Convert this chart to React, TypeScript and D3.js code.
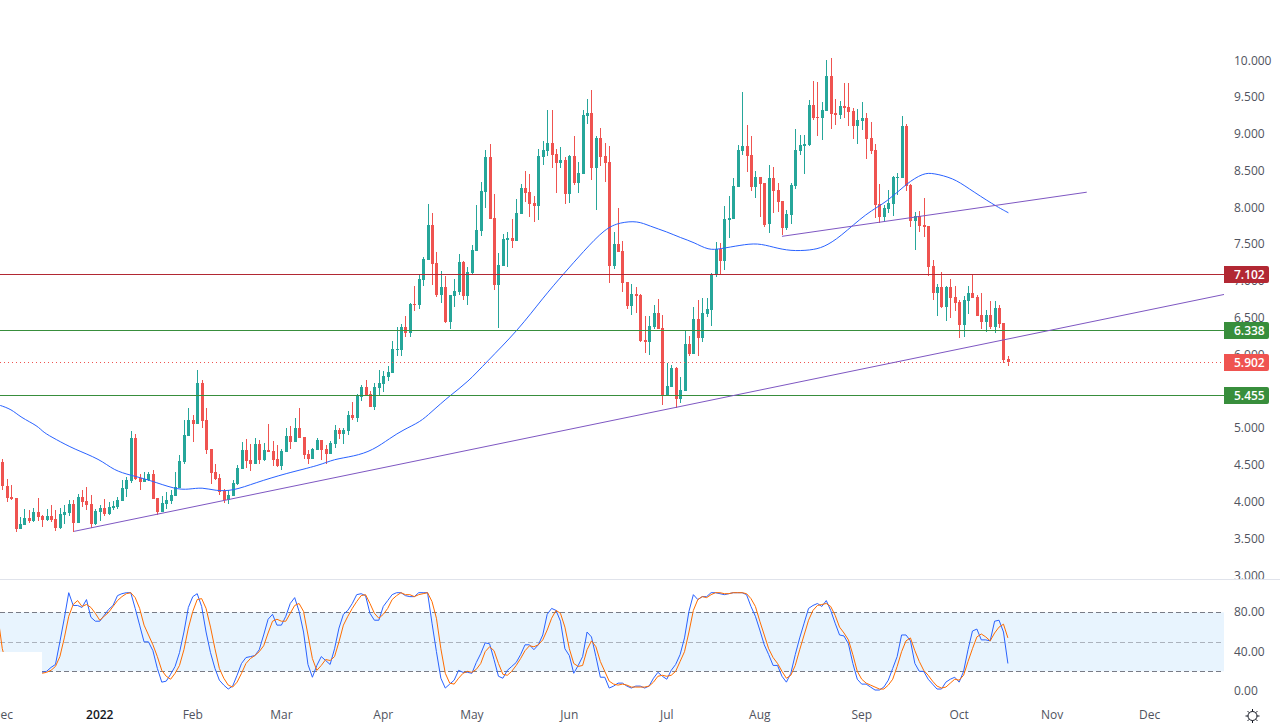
import { useEffect, useRef } from 'react';
import * as d3 from 'd3';

const W = 1280, H = 728;
const AXIS_X = 1224;
const GREEN = '#26a69a', RED = '#ef5350';

// daily candles, one per bar, left to right
const opens = [
  4.54,4.22,4.07,4.05,3.63,3.69,3.78,3.74,3.86,3.81,
  3.75,3.81,3.77,3.65,3.82,3.85,3.97,3.71,4.07,4.01,
  3.97,3.70,3.86,3.92,3.84,3.92,3.93,4.01,4.18,4.29,
  4.87,4.33,4.27,4.30,4.38,4.05,3.86,3.97,4.01,4.08,
  4.19,4.54,4.90,5.11,5.06,5.62,5.11,4.72,4.41,4.33,
  4.15,4.03,4.08,4.24,4.45,4.71,4.57,4.52,4.79,4.57,
  4.71,4.69,4.58,4.49,4.68,4.90,4.81,5.00,4.88,4.65,
  4.58,4.71,4.84,4.72,4.65,4.79,4.98,4.92,4.96,5.18,
  5.14,5.43,5.56,5.47,5.29,5.55,5.60,5.70,5.75,6.07,
  6.07,6.38,6.30,6.69,6.68,7.02,7.29,7.76,7.25,6.81,
  6.92,6.45,6.80,6.85,7.26,6.80,7.11,7.41,7.68,8.21,
  8.69,7.86,6.95,7.21,7.56,7.59,7.55,7.91,8.27,8.21,
  8.06,8.02,8.69,8.77,8.88,8.73,8.61,8.65,8.19,8.70,
  8.34,8.46,9.25,9.29,8.54,8.95,8.70,8.62,7.21,7.50,
  7.41,6.99,6.66,6.83,6.81,6.20,6.17,6.38,6.57,6.36,
  5.44,5.56,5.82,5.40,5.51,6.15,6.01,6.49,6.23,6.55,
  6.61,7.08,7.44,7.27,7.83,7.85,8.28,8.77,8.84,8.72,
  8.28,8.42,8.33,7.78,8.40,8.24,8.09,7.72,7.90,8.29,
  8.77,8.84,8.85,9.40,9.23,9.22,9.31,9.79,9.29,9.26,
  9.38,9.37,9.31,9.11,9.18,9.22,8.95,8.78,8.05,7.87,
  7.98,8.05,8.40,8.40,9.11,8.31,7.82,7.89,7.76,7.75,
  7.21,6.84,6.92,6.65,6.92,6.79,6.72,6.40,6.73,6.84,
  6.79,6.54,6.45,6.54,6.38,6.64,6.43,5.94,
];
const closes = [
  4.21,4.05,4.04,3.63,3.70,3.78,3.74,3.86,3.79,3.75,
  3.81,3.75,3.65,3.84,3.86,3.97,3.71,4.07,4.00,3.96,
  3.70,3.88,3.92,3.84,3.93,3.94,4.03,4.19,4.30,4.87,
  4.31,4.27,4.31,4.38,4.04,3.86,3.98,4.03,4.09,4.20,
  4.56,4.91,5.11,5.06,5.62,5.10,4.71,4.39,4.31,4.14,
  4.03,4.09,4.26,4.46,4.71,4.56,4.52,4.79,4.57,4.71,
  4.68,4.57,4.49,4.69,4.90,4.81,5.00,4.87,4.64,4.58,
  4.72,4.84,4.71,4.65,4.80,4.98,4.92,4.98,5.18,5.14,
  5.45,5.56,5.45,5.29,5.56,5.62,5.71,5.77,6.08,6.08,
  6.38,6.30,6.69,6.67,7.03,7.30,7.76,7.23,6.81,6.92,
  6.45,6.81,6.87,7.26,6.80,7.13,7.42,7.70,8.23,8.69,
  7.85,6.95,7.22,7.57,7.59,7.55,7.93,8.27,8.20,8.05,
  8.02,8.70,8.78,8.88,8.72,8.61,8.65,8.19,8.70,8.34,
  8.47,9.26,9.29,8.54,8.95,8.69,8.61,7.21,7.50,7.40,
  6.98,6.66,6.83,6.80,6.19,6.17,6.39,6.57,6.35,5.45,
  5.57,5.82,5.40,5.52,6.15,6.01,6.49,6.23,6.57,6.62,
  7.10,7.44,7.27,7.85,7.86,8.29,8.78,8.84,8.70,8.28,
  8.42,8.32,7.76,8.40,8.23,8.08,7.72,7.91,8.31,8.78,
  8.85,8.87,9.40,9.22,9.22,9.33,9.79,9.27,9.26,9.38,
  9.35,9.30,9.11,9.19,9.22,8.93,8.77,8.04,7.87,8.00,
  8.06,8.42,8.42,9.11,8.29,7.82,7.89,7.75,7.74,7.19,
  6.84,6.92,6.65,6.92,6.77,6.70,6.40,6.74,6.84,6.77,
  6.53,6.45,6.54,6.38,6.64,6.42,5.93,5.90,
];
const highs = [
  4.59,4.31,4.23,4.05,3.79,3.91,3.89,3.92,4.05,3.82,
  3.90,3.96,3.89,3.92,3.96,4.03,4.03,4.11,4.16,4.20,
  4.09,3.90,3.96,4.04,4.00,4.01,4.07,4.30,4.34,4.96,
  4.92,4.38,4.41,4.41,4.43,4.05,4.08,4.14,4.16,4.41,
  4.64,5.11,5.28,5.18,5.79,5.66,5.28,4.72,4.52,4.38,
  4.18,4.16,4.30,4.50,4.81,4.86,4.79,4.87,4.84,4.80,
  5.06,4.83,4.77,4.72,5.00,5.03,5.14,5.28,4.88,4.71,
  4.73,4.87,4.84,4.77,4.83,5.05,5.01,5.01,5.24,5.36,
  5.47,5.59,5.66,5.51,5.62,5.80,5.78,5.85,6.19,6.38,
  6.42,6.53,6.70,6.93,7.08,7.33,8.05,7.93,7.40,7.14,
  7.07,6.81,7.03,7.37,7.27,7.20,7.49,8.03,8.35,8.78,
  8.87,8.19,7.38,7.64,7.67,7.85,8.12,8.32,8.50,8.46,
  8.16,8.80,8.91,9.33,9.33,8.80,8.82,8.69,8.72,8.97,
  8.62,9.33,9.48,9.60,8.97,9.08,8.88,8.84,7.67,7.99,
  7.55,6.99,6.96,6.92,6.83,6.53,6.53,6.68,6.76,6.54,
  5.89,5.86,5.83,5.70,6.34,6.25,6.65,6.74,6.77,6.77,
  7.11,7.53,7.52,8.02,8.16,8.40,8.85,9.57,9.12,8.97,
  8.50,8.42,8.33,8.58,8.55,8.33,8.09,7.97,8.33,9.07,
  8.99,8.99,9.46,9.72,9.71,9.44,10.01,10.03,9.48,9.45,
  9.69,9.69,9.35,9.34,9.44,9.29,9.16,8.87,8.32,8.04,
  8.24,8.43,8.47,9.25,9.14,8.32,7.94,7.95,8.13,7.75,
  7.29,6.96,7.13,6.94,7.03,6.94,6.74,6.80,6.94,7.10,
  6.81,6.84,6.61,6.73,6.73,6.68,6.43,5.98,
];
const lows = [
  4.16,4.00,4.03,3.59,3.63,3.69,3.71,3.73,3.74,3.66,
  3.74,3.73,3.61,3.63,3.70,3.81,3.59,3.71,3.93,3.89,
  3.65,3.69,3.74,3.81,3.82,3.89,3.90,4.01,4.07,4.26,
  4.30,4.16,4.27,4.29,4.04,3.82,3.86,3.90,3.97,4.08,
  4.19,4.52,4.90,4.81,5.06,5.00,4.65,4.24,4.30,4.09,
  3.99,3.97,4.08,4.23,4.45,4.46,4.42,4.52,4.52,4.56,
  4.68,4.49,4.47,4.43,4.68,4.72,4.81,4.87,4.58,4.52,
  4.58,4.71,4.57,4.52,4.65,4.73,4.86,4.79,4.91,5.11,
  5.09,5.37,5.45,5.29,5.25,5.45,5.49,5.64,5.75,5.98,
  5.98,6.24,6.24,6.60,6.62,6.93,7.29,6.95,6.79,6.70,
  6.43,6.35,6.65,6.81,6.74,6.68,7.08,7.41,7.61,7.99,
  7.85,6.88,6.37,7.21,7.19,7.45,7.55,7.91,8.08,7.87,
  7.80,7.83,8.58,8.70,8.54,8.20,8.54,8.05,8.06,8.31,
  8.20,8.46,9.14,8.38,7.97,8.57,8.35,6.98,7.17,7.40,
  6.85,6.62,6.54,6.57,6.17,6.02,6.00,6.35,6.35,5.32,
  5.44,5.56,5.28,5.34,5.51,5.98,6.01,5.98,6.17,6.51,
  6.39,7.06,7.08,7.15,7.59,7.85,8.28,8.72,8.48,8.23,
  8.13,7.87,7.74,7.66,7.93,7.94,7.63,7.70,7.78,8.25,
  8.72,8.46,8.84,9.19,8.97,8.92,9.31,9.07,9.12,9.21,
  9.22,9.11,8.93,8.87,9.06,8.66,8.73,7.86,7.79,7.80,
  7.93,7.89,8.17,8.40,8.23,7.74,7.42,7.67,7.60,7.07,
  6.74,6.53,6.64,6.46,6.50,6.60,6.23,6.24,6.55,6.77,
  6.53,6.35,6.31,6.35,6.30,6.36,5.89,5.85,
];

// moving average, read at its bends
const maBars = [-1,2,4,8,9,12,16,22,25,29,33,39,42,45,48,52,57,64,71.7,74.6,79.3,83.5,87.5,90.4,94.3,96.5,101,105,109,116.4,122,126.6,131,136,139.4,143.3,146,150,153,156,159.3,162,166.5,170.4,174,177.8,182.3,185.3,189,195,199.7,204,207.8,210,214.6,217.8,223.6,227];
const maValues = [5.32,5.26,5.15,5.03,4.95,4.85,4.72,4.58,4.43,4.36,4.30,4.17,4.17,4.20,4.15,4.15,4.26,4.39,4.50,4.58,4.62,4.70,4.87,4.98,5.09,5.21,5.45,5.63,5.89,6.34,6.78,7.10,7.40,7.72,7.80,7.82,7.75,7.67,7.59,7.53,7.42,7.44,7.49,7.52,7.46,7.41,7.42,7.46,7.60,7.93,8.08,8.33,8.47,8.47,8.40,8.27,8.04,7.93];

// stochastic, both series start at bar 9; the orange one also peeks out at the left edge
const STOCH_START = 9;
const stochK = [
  19,20,24,27,50,74,100,87,87,85,93,75,71,71,77,83,87,97,99,100,100,
  84,67,50,50,41,23,9,10,17,25,39,60,85,96,99,86,60,39,23,11,
  6,2,5,16,28,34,35,36,42,57,73,78,67,67,76,89,95,81,60,27,
  14,26,35,31,27,43,64,78,82,89,98,99,97,79,72,72,86,92,98,100,
  100,97,96,96,100,100,100,69,40,13,3,7,11,21,19,19,18,29,38,49,
  48,32,15,13,21,25,29,37,47,47,42,47,57,78,84,82,71,43,36,18,
  26,35,60,55,35,14,14,3,5,8,8,5,3,5,5,3,5,13,19,15,
  12,21,27,37,54,81,98,93,96,96,100,100,99,98,99,100,100,100,98,86,
  76,62,47,37,26,26,15,9,18,37,54,69,84,87,89,86,92,82,69,57,
  56,48,28,12,7,7,4,1,1,4,11,23,35,57,57,51,28,20,20,12,
  7,2,2,9,12,14,9,20,42,61,63,52,52,51,71,72,60,28,
];
const stochD = [
  18,19,21,25,35,54,76,88,92,86,88,85,79,72,76,80,86,92,96,99,100,
  95,84,67,57,47,35,21,15,12,18,26,42,64,81,93,94,84,65,43,23,
  13,6,4,9,18,28,33,36,40,46,59,71,73,71,71,79,87,89,81,57,
  33,21,26,32,31,35,50,67,76,84,91,97,98,89,79,74,78,84,93,97,
  100,98,98,96,98,99,100,91,74,43,18,8,7,13,18,20,19,22,28,40,
  45,41,28,17,16,20,26,33,41,46,45,47,52,62,74,82,79,65,43,28,
  25,26,42,51,45,30,20,10,7,6,7,6,4,4,4,4,5,9,15,16,
  15,16,20,30,40,60,82,93,96,95,98,100,100,99,99,100,100,100,99,94,
  86,71,57,43,34,28,20,13,16,26,42,57,72,82,87,88,89,86,77,65,
  59,52,37,20,12,8,6,4,2,2,6,12,25,40,51,54,41,30,21,16,
  10,5,3,4,8,12,11,16,30,43,55,58,55,51,59,65,68,54,
];
const stochDLead = [76,43,26];

const priceTicks = [10,9.5,9,8.5,8,7.5,7,6.5,6,5.5,5,4.5,4,3.5,3];
const stochTicks = [80,40,0];
const monthLabels = ['Dec','2022','Feb','Mar','Apr','May','Jun','Jul','Aug','Sep','Oct','Nov','Dec'];
const monthBars = [0,22,43,63,86,106,128,150,171,194,216,237,259];

const levelPrices = [7.102,6.338,5.455];
const levelColors = ['#b22833','#388e3c','#388e3c'];
const lastPrice = 5.902;

const trendBars = [[16.2,275.8],[176,244.8]];
const trendPrices = [[3.60,6.82],[7.61,8.21]];

export default function App() {
  const svgRef = useRef<SVGSVGElement>(null);

  useEffect(() => {
    if (!svgRef.current) return;
    const svg = d3.select(svgRef.current);
    svg.selectAll('*').remove();

    const x = d3.scaleLinear().domain([0, 227]).range([2.3, 1007.9]);
    const y = d3.scaleLinear().domain([3, 10]).range([575.5, 60.5]);
    const ys = d3.scaleLinear().domain([0, 100]).range([691, 592.7]);
    const px = (i: number) => Math.round(x(i));
    const crisp = (v: number) => Math.round(v) + 0.5;

    const defs = svg.append('defs');
    defs.append('clipPath').attr('id', 'pane')
      .append('rect').attr('width', AXIS_X).attr('height', 579);
    defs.append('clipPath').attr('id', 'top')
      .append('rect').attr('width', W).attr('height', 579);
    defs.append('clipPath').attr('id', 'osc')
      .append('rect').attr('y', 580).attr('width', AXIS_X).attr('height', 120);

    const font = '"Open Sans", sans-serif';
    const pane = svg.append('g').attr('clip-path', 'url(#pane)');
    const bars = d3.range(opens.length);

    // Candles
    const candles = pane.append('g').attr('shape-rendering', 'crispEdges');
    candles.selectAll('.wick').data(bars).join('rect')
      .attr('x', (i) => px(i))
      .attr('y', (i) => y(highs[i]))
      .attr('width', 1)
      .attr('height', (i) => y(lows[i]) - y(highs[i]))
      .attr('fill', (i) => (closes[i] >= opens[i] ? GREEN : RED));
    candles.selectAll('.body').data(bars).join('rect')
      .attr('x', (i) => px(i) - 1)
      .attr('y', (i) => y(Math.max(opens[i], closes[i])))
      .attr('width', 3)
      .attr('height', (i) => Math.max(1, Math.abs(y(opens[i]) - y(closes[i]))))
      .attr('fill', (i) => (closes[i] >= opens[i] ? GREEN : RED));

    // Moving average
    const maLine = d3.line<number>()
      .x((_, k) => x(maBars[k]) + 0.5)
      .y((v) => y(v))
      .curve(d3.curveBasis);
    pane.append('path').attr('d', maLine(maValues))
      .attr('fill', 'none').attr('stroke', '#2962ff').attr('stroke-width', 1);

    // Support and resistance levels
    levelPrices.forEach((p, k) => {
      pane.append('line')
        .attr('x1', 0).attr('x2', AXIS_X)
        .attr('y1', crisp(y(p))).attr('y2', crisp(y(p)))
        .attr('stroke', levelColors[k]).attr('stroke-width', 1);
    });
    pane.append('line')
      .attr('x1', 0).attr('x2', AXIS_X)
      .attr('y1', crisp(y(lastPrice))).attr('y2', crisp(y(lastPrice)))
      .attr('stroke', RED).attr('stroke-width', 1).attr('stroke-dasharray', '1 3');

    // Trend lines
    trendBars.forEach((b, k) => {
      pane.append('line')
        .attr('x1', x(b[0])).attr('x2', x(b[1]))
        .attr('y1', y(trendPrices[k][0])).attr('y2', y(trendPrices[k][1]))
        .attr('stroke', '#7e57c2').attr('stroke-width', 1);
    });

    // Price axis
    svg.append('g').attr('clip-path', 'url(#top)')
      .selectAll('text').data(priceTicks).join('text')
      .attr('x', 1234).attr('y', (d) => y(d) + 4)
      .attr('font-family', font).attr('font-size', 12).attr('fill', '#50535e')
      .text((d) => d.toFixed(3));

    // Price tags on the axis
    const tag = (p: number, color: string) => {
      const cy = crisp(y(p));
      svg.append('path')
        .attr('d', `M${AXIS_X},${cy - 8.5}H1267a2,2 0 0 1 2,2V${cy + 6.5}a2,2 0 0 1 -2,2H${AXIS_X}Z`)
        .attr('fill', color);
      svg.append('text')
        .attr('x', 1234).attr('y', cy + 4)
        .attr('font-family', font).attr('font-size', 12).attr('font-weight', 600).attr('fill', '#fff')
        .text(p.toFixed(3));
    };
    levelPrices.forEach((p, k) => tag(p, levelColors[k]));
    tag(lastPrice, RED);

    // Pane separator
    svg.append('line')
      .attr('x1', 0).attr('x2', W).attr('y1', 579.5).attr('y2', 579.5)
      .attr('stroke', '#e0e3eb');

    // Stochastic pane
    const osc = svg.append('g').attr('clip-path', 'url(#osc)');
    osc.append('rect')
      .attr('x', 0).attr('width', AXIS_X)
      .attr('y', ys(80)).attr('height', ys(20) - ys(80))
      .attr('fill', 'rgba(33,150,243,0.1)');
    [80, 50, 20].forEach((v) => {
      osc.append('line')
        .attr('x1', 0).attr('x2', AXIS_X)
        .attr('y1', crisp(ys(v))).attr('y2', crisp(ys(v)))
        .attr('stroke', '#787b86')
        .attr('stroke-opacity', v === 50 ? 0.55 : 1)
        .attr('stroke-dasharray', '5 3');
    });
    const stochLine = (start: number) => d3.line<number>()
      .x((_, k) => x(start + k))
      .y((v) => ys(v));
    osc.append('path').attr('d', stochLine(STOCH_START)(stochK))
      .attr('fill', 'none').attr('stroke', '#2962ff').attr('stroke-width', 1);
    osc.append('path').attr('d', stochLine(STOCH_START)(stochD))
      .attr('fill', 'none').attr('stroke', '#ff6d00').attr('stroke-width', 1);
    osc.append('path').attr('d', stochLine(-1)(stochDLead))
      .attr('fill', 'none').attr('stroke', '#ff6d00').attr('stroke-width', 1);

    // The corner of the lower pane is blanked out in the picture
    svg.append('rect')
      .attr('x', 0).attr('y', 652).attr('width', 42).attr('height', 50)
      .attr('fill', '#fff');

    svg.append('g').selectAll('text').data(stochTicks).join('text')
      .attr('x', 1234).attr('y', (d) => ys(d) + 4)
      .attr('font-family', font).attr('font-size', 12).attr('fill', '#50535e')
      .text((d) => d.toFixed(2));

    // Time axis
    svg.append('g').selectAll('text').data(monthLabels).join('text')
      .attr('x', (_, k) => x(monthBars[k]))
      .attr('y', 719)
      .attr('text-anchor', 'middle')
      .attr('font-family', font).attr('font-size', 12)
      .attr('font-weight', (d) => (d === '2022' ? 600 : 400))
      .attr('fill', (d) => (d === '2022' ? '#131722' : '#50535e'))
      .text((d) => d);

    // Settings icon
    const icon = svg.append('g').attr('transform', 'translate(1252.5,716)')
      .attr('stroke', '#131722').attr('fill', 'none');
    icon.append('circle').attr('r', 4.5);
    d3.range(8).forEach((k) => {
      const a = (k * Math.PI) / 4;
      icon.append('line')
        .attr('x1', Math.cos(a) * 4.5).attr('y1', Math.sin(a) * 4.5)
        .attr('x2', Math.cos(a) * 7).attr('y2', Math.sin(a) * 7);
    });
  }, []);

  return (
    <div style={{ position: 'fixed', left: 0, top: 0, background: '#fff' }}>
      <svg ref={svgRef} width={W} height={H} viewBox={`0 0 ${W} ${H}`} style={{ display: 'block' }} />
    </div>
  );
}
